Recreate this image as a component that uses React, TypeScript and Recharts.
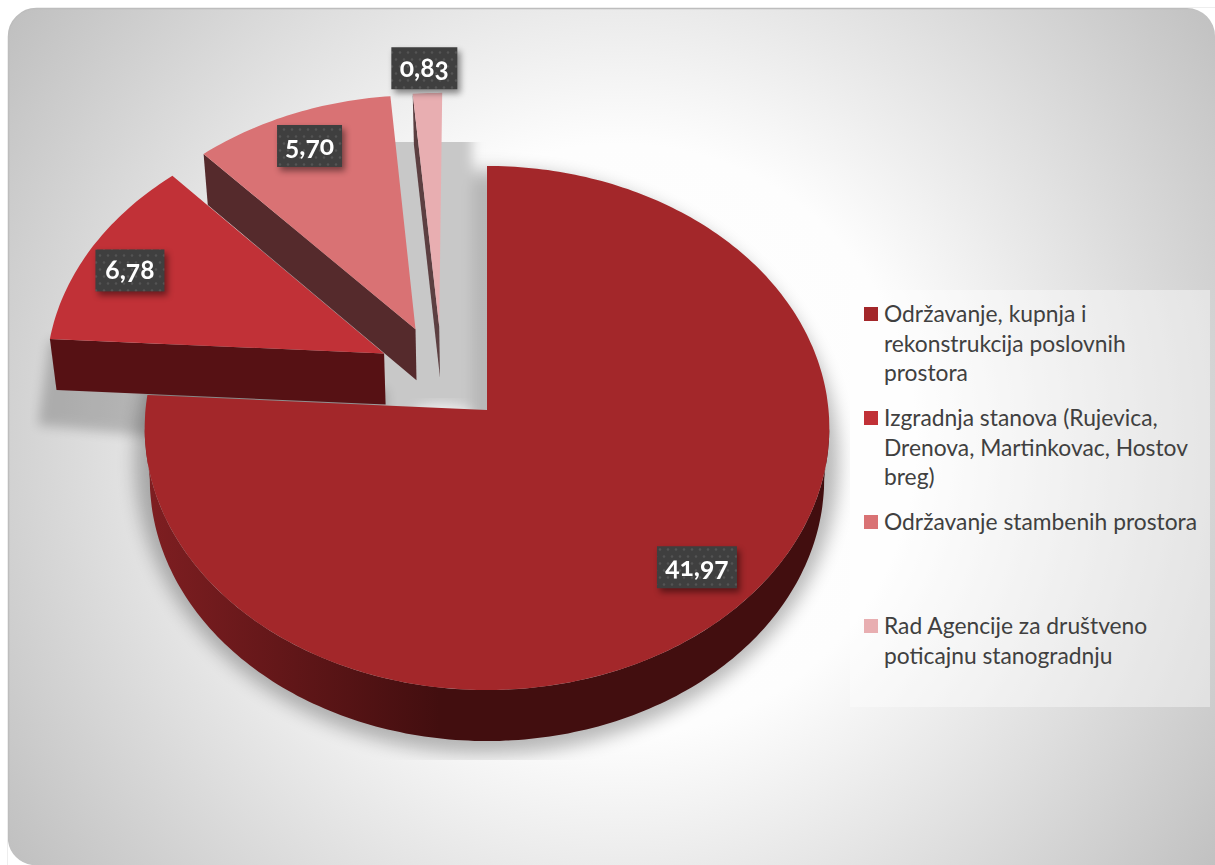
import React from "react";
import { PieChart, Pie, Legend } from "recharts";

const NAMES = [
  "Održavanje, kupnja i rekonstrukcija poslovnih prostora",
  "Izgradnja stanova (Rujevica, Drenova, Martinkovac, Hostov breg)",
  "Održavanje stambenih prostora",
  "Rad Agencije za društveno poticajnu stanogradnju",
];
const VALUES = [41.97, 6.78, 5.7, 0.83];
const COLORS = ["#A3272A", "#C13137", "#D97274", "#E8AEB1"];

// layout of the exploded slices, in units of the pie radius
const WALLS = ["url(#rim)", "#561114", "#552A2C", "#5C3F41"];
const EXPLODE = [
  [0, 0],
  [-0.306, 0.22],
  [-0.214, 0.316],
  [-0.143, 0.327],
];
const LABEL_RADIUS = [0.83, 0.85, 0.84, 1.105];
const LABEL_WIDTH = [80, 69, 65, 66];
const LABEL_NUDGE = [
  [7, -7],
  [-4.5, 7],
  [-1, -1],
  [-2, -2],
];

const WIDTH = 1215;
const HEIGHT = 865;
const TILT = 0.7637; // squash of the disk
const PERSPECTIVE = 0.0687;
const DEPTH = 51;
const BOTTOM_SCALE = 0.985;
const FONT = "Lato, 'Open Sans', sans-serif";

const data = NAMES.map((name, i) => ({ name, value: VALUES[i], fill: COLORS[i] }));

const rad = (deg: number) => (deg * Math.PI) / 180;

// disk coordinates -> screen, far side gets a bit smaller
const project = (cx: number, cy: number, R: number, X: number, Y: number) => {
  const w = 1 + PERSPECTIVE * Y;
  return [cx + (R * X) / w, cy - (R * TILT * Y) / w];
};

const Slice = (props: any) => {
  const { cx, cy, outerRadius: R, startAngle, endAngle, name, fill } = props;
  const i = NAMES.indexOf(name);
  const [ox, oy] = EXPLODE[i];
  const from = 90 - startAngle; // clockwise from 12 o'clock
  const to = 90 - endAngle;

  const rimPoint = (clock: number) =>
    project(cx, cy, R, ox + Math.sin(rad(clock)), oy + Math.cos(rad(clock)));
  const lower = ([x, y]: number[]) => [cx + (x - cx) * BOTTOM_SCALE, y + DEPTH];
  const apex = project(cx, cy, R, ox, oy);

  const arc = (a: number, b: number) => {
    const pts: number[][] = [];
    const n = Math.max(2, Math.ceil(Math.abs(b - a)));
    for (let k = 0; k <= n; k++) pts.push(rimPoint(a + ((b - a) * k) / n));
    return pts;
  };
  const toPath = (pts: number[][]) =>
    "M" + pts.map((p) => `${p[0].toFixed(1)},${p[1].toFixed(1)}`).join("L") + "Z";

  const rimFrom = Math.max(from, 94);
  const rimTo = Math.min(to, 266);
  const top = arc(from, to);

  return (
    <g>
      {rimTo > rimFrom && (
        <path
          d={toPath([
            ...arc(rimFrom, rimTo),
            ...arc(rimFrom, rimTo).reverse().map(lower),
          ])}
          fill={WALLS[i]}
        />
      )}
      {from > 180 && (
        <path
          d={toPath([rimPoint(from), apex, lower(apex), lower(rimPoint(from))])}
          fill={WALLS[i]}
        />
      )}
      <path d={toPath([apex, ...top])} fill={fill} />
    </g>
  );
};

const renderLabel = (props: any) => {
  const { cx, cy, outerRadius: R, midAngle, value, name } = props;
  const i = NAMES.indexOf(name);
  const clock = rad(90 - midAngle);
  const r = LABEL_RADIUS[i];
  const p = project(
    cx,
    cy,
    R,
    EXPLODE[i][0] + r * Math.sin(clock),
    EXPLODE[i][1] + r * Math.cos(clock)
  );
  const x = p[0] + LABEL_NUDGE[i][0];
  const y = p[1] + LABEL_NUDGE[i][1];
  const w = LABEL_WIDTH[i];
  return (
    <g key={name} style={{ filter: "drop-shadow(3px 4px 3px rgba(0,0,0,0.45))" }}>
      <rect x={x - w / 2} y={y - 21} width={w} height={42} fill="url(#dots)" />
      <text
        x={x}
        y={y + 9}
        textAnchor="middle"
        fill="#fff"
        fontFamily={FONT}
        fontWeight={700}
        fontSize={26.5}
        style={{ fontFeatureSettings: '"onum"' }}
      >
        {value.toFixed(2).replace(".", ",")}
      </text>
    </g>
  );
};

const renderLegend = ({ payload }: any) => (
  <div style={{ paddingTop: 9, fontFamily: FONT, fontSize: 22.8, lineHeight: "29.5px", color: "#404040" }}>
    {(payload || []).map((entry: any) => (
      <div key={entry.value} style={{ position: "relative", height: 104, paddingLeft: 34, width: 320 }}>
        <div
          style={{
            position: "absolute",
            left: 14,
            top: 8,
            width: 14,
            height: 14,
            background: entry.color,
          }}
        />
        {entry.value}
      </div>
    ))}
  </div>
);

// page backdrop with the soft shadows of the pie
const Backdrop = () => (
  <svg width={WIDTH} height={HEIGHT} style={{ position: "absolute", left: 0, top: 0 }}>
    <defs>
      <radialGradient id="bg" gradientUnits="userSpaceOnUse" cx={620} cy={440} r={740}>
        <stop offset="0" stopColor="#ffffff" />
        <stop offset="0.4" stopColor="#fdfdfd" />
        <stop offset="1" stopColor="#c0c0c0" />
      </radialGradient>
      <linearGradient id="rim" gradientUnits="userSpaceOnUse" x1={150} y1={0} x2={440} y2={0}>
        <stop offset="0" stopColor="#7E1E21" />
        <stop offset="1" stopColor="#420E0F" />
      </linearGradient>
      <pattern id="dots" patternUnits="userSpaceOnUse" width={16} height={14}>
        <rect width={16} height={14} fill="#3F3F3F" />
        <circle cx={4} cy={3.5} r={1.2} fill="#545454" />
        <circle cx={12} cy={3.5} r={1.2} fill="#545454" />
        <circle cx={0} cy={10.5} r={1.2} fill="#545454" />
        <circle cx={8} cy={10.5} r={1.2} fill="#545454" />
        <circle cx={16} cy={10.5} r={1.2} fill="#545454" />
      </pattern>
      <filter id="blur8" x="-20%" y="-20%" width="140%" height="140%">
        <feGaussianBlur stdDeviation={9} />
      </filter>
      <filter id="blur5" x="-30%" y="-30%" width="160%" height="160%">
        <feGaussianBlur stdDeviation={6} />
      </filter>
      <clipPath id="shadowClip">
        <rect x={30} y={142} width={820} height={618} />
      </clipPath>
    </defs>
    <rect x={8.5} y={8.5} width={WIDTH + 20} height={HEIGHT + 20} rx={28} fill="url(#bg)" stroke="#bdbdbd" strokeWidth={1.5} />
    <path d={`M1187,8 a28,28 0 0 1 28,28 V8 Z`} fill="#fff" />
    <path d={`M8,865 h24 a28,28 0 0 1 -24,-24 Z`} fill="#fff" />
    <g clipPath="url(#shadowClip)">
      <ellipse cx={487} cy={462} rx={352} ry={292} fill="#000" opacity={0.27} filter="url(#blur8)" />
      <rect x={370} y={90} width={102} height={335} fill="#c8c8c8" filter="url(#blur5)" />
      <path d="M50,340 L38,425 L150,436 L386,420 L386,390 Z" fill="#000" opacity={0.2} filter="url(#blur5)" />
    </g>
    <ellipse cx={442} cy={414} rx={30} ry={10} fill="#fff" opacity={0.7} filter="url(#blur5)" />
    <rect x={850} y={290} width={360} height={417} fill="#fff" opacity={0.4} />
  </svg>
);

export default function App() {
  return (
    <div style={{ position: "absolute", left: 0, top: 0, width: WIDTH, height: HEIGHT, overflow: "hidden", background: "#fff" }}>
      <Backdrop />
      <div style={{ position: "absolute", left: 0, top: 0 }}>
        <PieChart width={WIDTH} height={HEIGHT} margin={{ top: 0, right: 0, bottom: 0, left: 0 }}>
          <Pie
            data={data}
            dataKey="value"
            nameKey="name"
            cx={487}
            cy={410}
            innerRadius={0}
            outerRadius={341.5}
            startAngle={90}
            endAngle={-270}
            stroke="none"
            shape={Slice}
            label={renderLabel}
            labelLine={false}
            isAnimationActive={false}
          />
          <Legend
            layout="vertical"
            align="right"
            verticalAlign="top"
            itemSorter={null}
            content={renderLegend}
            wrapperStyle={{ left: 850, top: 290, width: 360, height: 417 }}
          />
        </PieChart>
      </div>
    </div>
  );
}
